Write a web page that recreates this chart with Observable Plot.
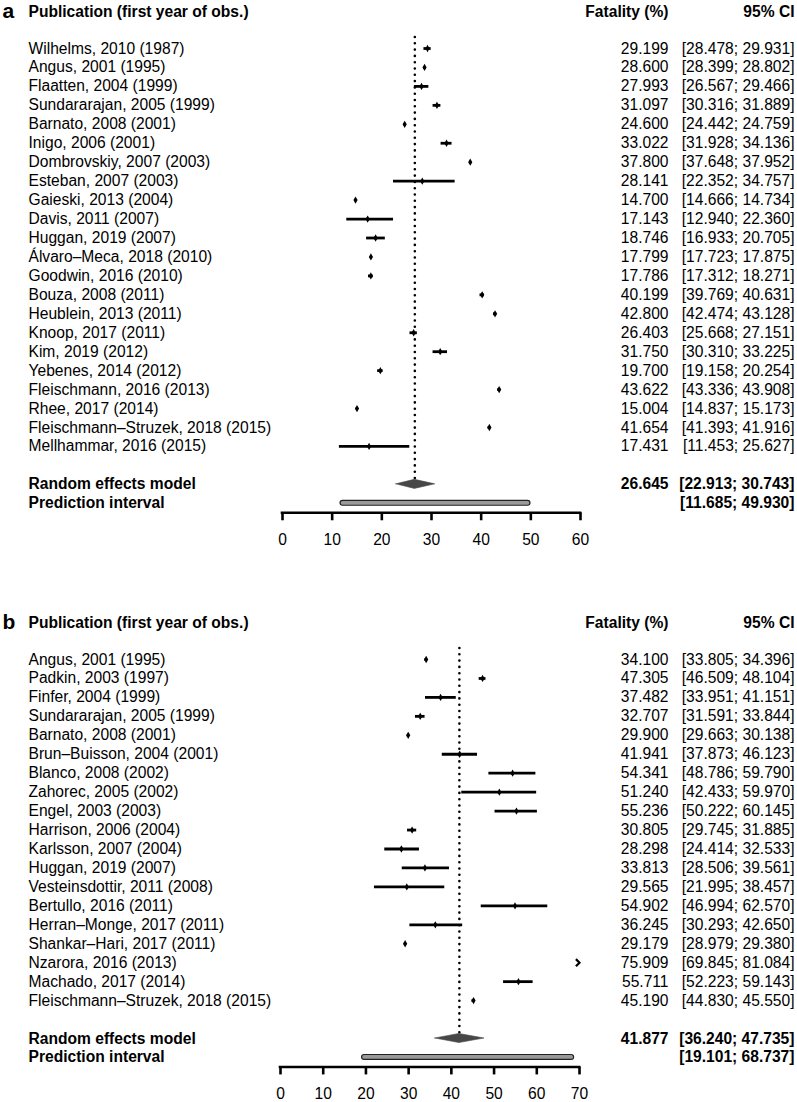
<!DOCTYPE html>
<html><head><meta charset="utf-8">
<script src="https://cdn.jsdelivr.net/npm/d3@7"></script>
<script src="https://cdn.jsdelivr.net/npm/@observablehq/plot@0.6"></script>
<style>
body{margin:0;background:#fff;}
#chart svg{display:block;}
</style></head><body><div id="chart"></div>
<script>
// ---------- Panel a ----------
const studiesA = ["Wilhelms, 2010 (1987)", "Angus, 2001 (1995)", "Flaatten, 2004 (1999)", "Sundararajan, 2005 (1999)", "Barnato, 2008 (2001)", "Inigo, 2006 (2001)", "Dombrovskiy, 2007 (2003)", "Esteban, 2007 (2003)", "Gaieski, 2013 (2004)", "Davis, 2011 (2007)", "Huggan, 2019 (2007)", "Álvaro–Meca, 2018 (2010)", "Goodwin, 2016 (2010)", "Bouza, 2008 (2011)", "Heublein, 2013 (2011)", "Knoop, 2017 (2011)", "Kim, 2019 (2012)", "Yebenes, 2014 (2012)", "Fleischmann, 2016 (2013)", "Rhee, 2017 (2014)", "Fleischmann–Struzek, 2018 (2015)", "Mellhammar, 2016 (2015)"];
const estA = [29.199, 28.600, 27.993, 31.097, 24.600, 33.022, 37.800, 28.141, 14.700, 17.143, 18.746, 17.799, 17.786, 40.199, 42.800, 26.403, 31.750, 19.700, 43.622, 15.004, 41.654, 17.431];
const loA  = [28.478, 28.399, 26.567, 30.316, 24.442, 31.928, 37.648, 22.352, 14.666, 12.940, 16.933, 17.723, 17.312, 39.769, 42.474, 25.668, 30.310, 19.158, 43.336, 14.837, 41.393, 11.453];
const hiA  = [29.931, 28.802, 29.466, 31.889, 24.759, 34.136, 37.952, 34.757, 14.734, 22.360, 20.705, 17.875, 18.271, 40.631, 43.128, 27.151, 33.225, 20.254, 43.908, 15.173, 41.916, 25.627];
const reA = [26.645, 22.913, 30.743];   // estimate, lower, upper
const piA = [11.685, 49.930];
const ticksA = [0, 10, 20, 30, 40, 50, 60];

// ---------- Panel b ----------
const studiesB = ["Angus, 2001 (1995)", "Padkin, 2003 (1997)", "Finfer, 2004 (1999)", "Sundararajan, 2005 (1999)", "Barnato, 2008 (2001)", "Brun–Buisson, 2004 (2001)", "Blanco, 2008 (2002)", "Zahorec, 2005 (2002)", "Engel, 2003 (2003)", "Harrison, 2006 (2004)", "Karlsson, 2007 (2004)", "Huggan, 2019 (2007)", "Vesteinsdottir, 2011 (2008)", "Bertullo, 2016 (2011)", "Herran–Monge, 2017 (2011)", "Shankar–Hari, 2017 (2011)", "Nzarora, 2016 (2013)", "Machado, 2017 (2014)", "Fleischmann–Struzek, 2018 (2015)"];
const estB = [34.100, 47.305, 37.482, 32.707, 29.900, 41.941, 54.341, 51.240, 55.236, 30.805, 28.298, 33.813, 29.565, 54.902, 36.245, 29.179, 75.909, 55.711, 45.190];
const loB  = [33.805, 46.509, 33.951, 31.591, 29.663, 37.873, 48.786, 42.433, 50.222, 29.745, 24.414, 28.506, 21.995, 46.994, 30.293, 28.979, 69.845, 52.223, 44.830];
const hiB  = [34.396, 48.104, 41.151, 33.844, 30.138, 46.123, 59.790, 59.970, 60.145, 31.885, 32.533, 39.561, 38.457, 62.570, 42.650, 29.380, 81.084, 59.143, 45.550];
const reB = [41.877, 36.240, 47.735];
const piB = [19.101, 68.737];
const ticksB = [0, 10, 20, 30, 40, 50, 60, 70];

const FONT = "'Liberation Sans', Arial, Helvetica, sans-serif";
const FS = 15.6;
const ROW = 18.95;

const chevron = {
  draw(ctx, size) {
    const s = Math.sqrt(size / Math.PI);
    ctx.moveTo(-s, -s);
    ctx.lineTo(0, 0);
    ctx.lineTo(-s, s);
  }
};

const f3 = v => v.toFixed(3);
const ci = (a, b) => `[${f3(a)}; ${f3(b)}]`;

function panel({letter, studies, est, lo, hi, re, pi, ticks, xRange, row0, height}) {
  const n = studies.length;
  const xmax = ticks[ticks.length - 1];
  const reRow = n + 1, piRow = n + 2, axisRow = piRow + 0.5;
  const rows = studies.map((s, i) => ({i, s, est: est[i], lo: lo[i], hi: hi[i]}));
  const diamond = [
    {x: re[1], y1: reRow, y2: reRow},
    {x: re[0], y1: reRow - 0.24, y2: reRow + 0.24},
    {x: re[2], y1: reRow, y2: reRow}
  ];
  const colVal = -129, colCI = -3, colLab = 28;
  return Plot.plot({
    width: 797, height, margin: 0,
    style: {fontFamily: FONT, fontSize: FS + "px", background: "#fff", color: "#000"},
    x: {domain: [0, xmax], range: xRange, axis: null},
    y: {domain: [0, 1], range: [row0, row0 + ROW], axis: null},
    marks: [
      // reference dotted line at pooled estimate
      Plot.ruleX([re[0]], {x: d => d, y1: -0.58, y2: reRow - 0.26, stroke: "#000", strokeWidth: 2.6, strokeDasharray: "0 6.3", strokeLinecap: "round"}),
      // confidence intervals
      Plot.ruleY(rows, {y: "i", x1: d => Math.max(d.lo, 0), x2: d => Math.min(d.hi, xmax), stroke: "#000", strokeWidth: 2.8}),
      Plot.dot(rows.filter(d => d.est <= xmax), {x: "est", y: "i", symbol: "diamond", r: 2.2, fill: "#000", stroke: null}),
      Plot.dot(rows.filter(d => d.hi > xmax), {x: () => xmax, y: "i", symbol: chevron, r: 3.6, fill: "none", stroke: "#000", strokeWidth: 2.2}),
      // pooled diamond
      Plot.areaY(diamond, {x: "x", y1: "y1", y2: "y2", fill: "#474747", stroke: "#474747", strokeWidth: 0.6}),
      // prediction interval
      Plot.rect([{x1: pi[0], x2: pi[1]}], {x1: "x1", x2: "x2", y1: piRow - 0.13, y2: piRow + 0.13, fill: "#9a9a9a", stroke: "#222", strokeWidth: 1.2, rx: 2.5}),
      // axis
      Plot.ruleY([axisRow], {y: d => d, x1: 0, x2: xmax, stroke: "#000", strokeWidth: 2.6, strokeLinecap: "square"}),
      Plot.ruleX(ticks, {x: d => d, y1: axisRow, y2: axisRow + 8 / ROW, stroke: "#000", strokeWidth: 2.6}),
      Plot.text(ticks, {x: d => d, y: piRow + 1.93, text: d => String(d), fill: "#000"}),
      // panel letter and headers
      Plot.text([letter], {frameAnchor: "left", y: -1.95, dx: 2, text: d => d, textAnchor: "start", fontWeight: "bold", fontSize: 21, fill: "#000"}),
      Plot.text(["Publication (first year of obs.)"], {frameAnchor: "left", y: -1.95, dx: colLab, text: d => d, textAnchor: "start", fontWeight: "bold", fill: "#000"}),
      Plot.text(["Fatality (%)"], {frameAnchor: "right", y: -1.95, dx: colVal, text: d => d, textAnchor: "end", fontWeight: "bold", fill: "#000"}),
      Plot.text(["95% CI"], {frameAnchor: "right", y: -1.95, dx: colCI, text: d => d, textAnchor: "end", fontWeight: "bold", fill: "#000"}),
      // study rows
      Plot.text(rows, {frameAnchor: "left", y: "i", dx: colLab, text: "s", textAnchor: "start", fill: "#000"}),
      Plot.text(rows, {frameAnchor: "right", y: "i", dx: colVal, text: d => f3(d.est), textAnchor: "end", fill: "#000"}),
      Plot.text(rows, {frameAnchor: "right", y: "i", dx: colCI, text: d => ci(d.lo, d.hi), textAnchor: "end", fill: "#000"}),
      // pooled rows
      Plot.text(["Random effects model"], {frameAnchor: "left", y: reRow, dx: colLab, text: d => d, textAnchor: "start", fontWeight: "bold", fill: "#000"}),
      Plot.text([re], {frameAnchor: "right", y: reRow, dx: colVal, text: d => f3(d[0]), textAnchor: "end", fontWeight: "bold", fill: "#000"}),
      Plot.text([re], {frameAnchor: "right", y: reRow, dx: colCI, text: d => ci(d[1], d[2]), textAnchor: "end", fontWeight: "bold", fill: "#000"}),
      Plot.text(["Prediction interval"], {frameAnchor: "left", y: piRow, dx: colLab, text: d => d, textAnchor: "start", fontWeight: "bold", fill: "#000"}),
      Plot.text([pi], {frameAnchor: "right", y: piRow, dx: colCI, text: d => ci(d[0], d[1]), textAnchor: "end", fontWeight: "bold", fill: "#000"})
    ]
  });
}

const root = document.getElementById("chart");
root.appendChild(panel({letter: "a", studies: studiesA, est: estA, lo: loA, hi: hiA, re: reA, pi: piA, ticks: ticksA, xRange: [282, 580], row0: 48, height: 556}));
root.appendChild(panel({letter: "b", studies: studiesB, est: estB, lo: loB, hi: hiB, re: reB, pi: piB, ticks: ticksB, xRange: [280, 579], row0: 103, height: 546}));
</script></body></html>
